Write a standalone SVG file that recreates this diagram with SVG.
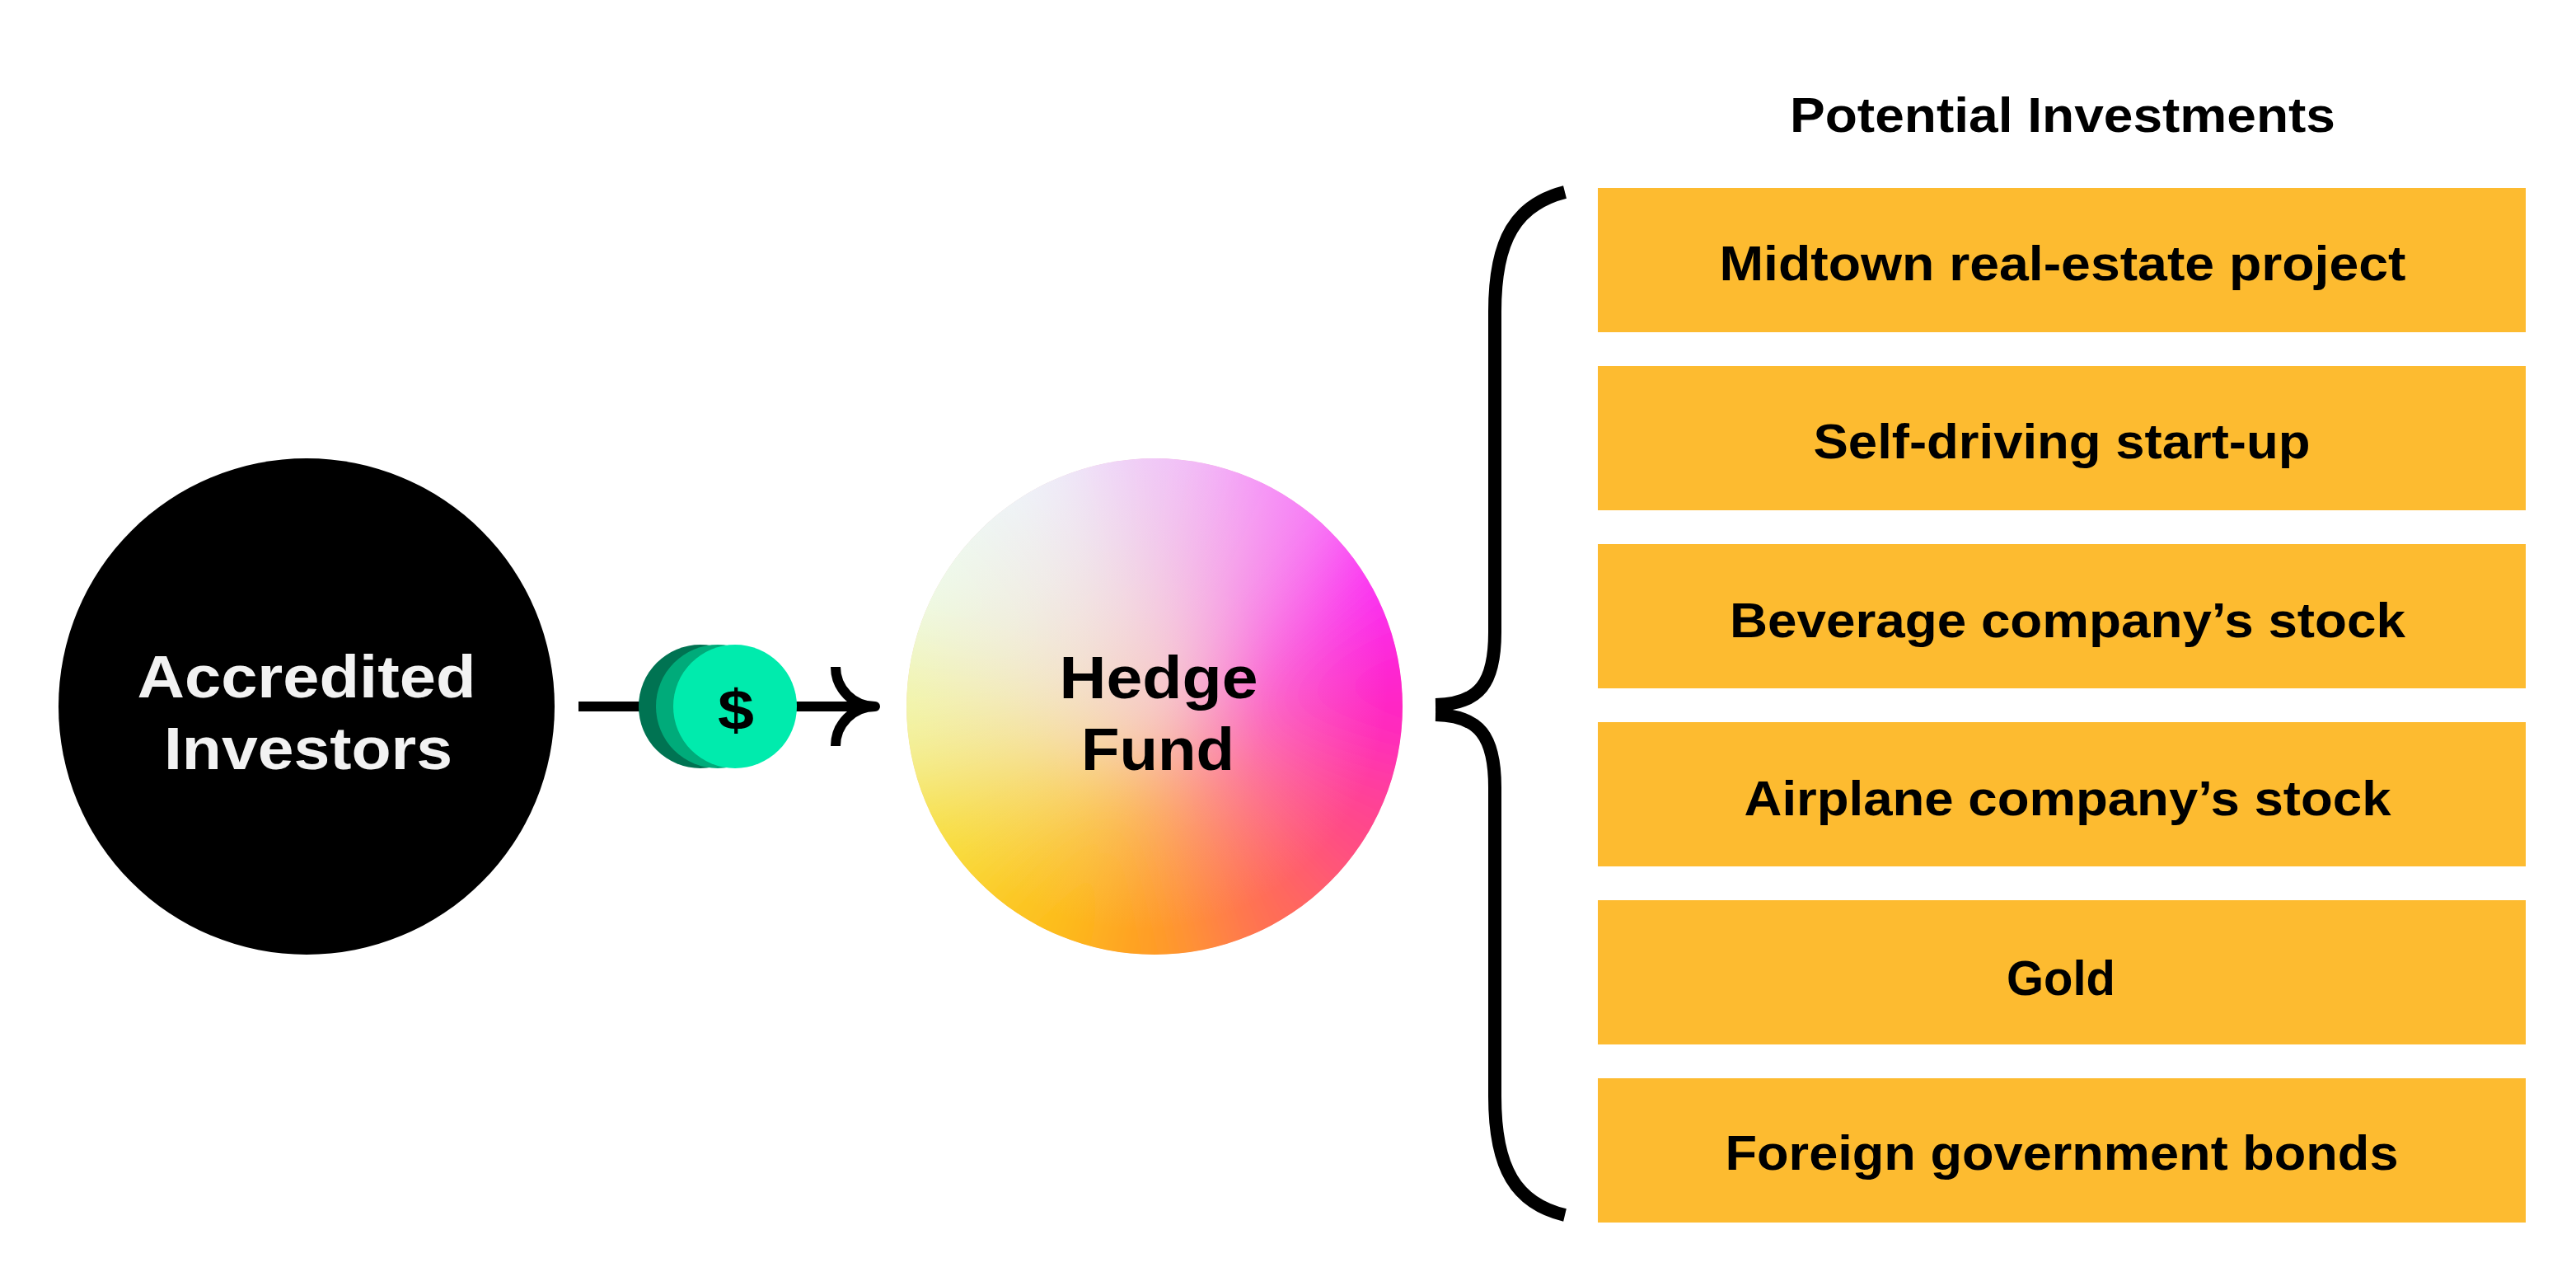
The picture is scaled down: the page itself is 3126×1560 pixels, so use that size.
<svg xmlns="http://www.w3.org/2000/svg" width="3126" height="1560" viewBox="0 0 3126 1560">
  <style>
    .lbl { font-family: "Liberation Sans", Arial, sans-serif; font-weight: 700; text-anchor: middle; }
    .box { fill: #FDBB30; }
    .boxtxt { font-size: 59px; fill: #000000; }
    .circ { font-size: 72px; }
    .stroke { fill: none; stroke: #000000; stroke-linecap: butt; stroke-linejoin: round; }
  </style>
  <defs>
    <clipPath id="hfClip">
      <circle cx="1401" cy="857" r="301"/>
    </clipPath>
    <filter id="soft" filterUnits="userSpaceOnUse" x="700" y="150" width="1400" height="1400">
      <feGaussianBlur stdDeviation="55"/>
    </filter>
    <radialGradient id="hfCenter" cx="0.47" cy="0.45" r="0.5">
      <stop offset="0" stop-color="#f6d2c8" stop-opacity="0.75"/>
      <stop offset="0.55" stop-color="#f6d2c8" stop-opacity="0.3"/>
      <stop offset="1" stop-color="#f6d2c8" stop-opacity="0"/>
    </radialGradient>
  </defs>
  <rect width="3126" height="1560" fill="#ffffff"/>

  <g id="connectors">
    <path class="stroke" stroke-width="12" d="M702,857 H1062"/>
    <path class="stroke" stroke-width="12" stroke-linejoin="miter" d="M1014,809 A48,48 0 0 0 1062,857 A48,48 0 0 0 1014,905"/>
    <g id="bracket">
      <path class="stroke" stroke-width="16" d="M1899,233 C1840,248 1814,290 1814,378 V767 C1814,828 1796,854 1742,855"/>
      <path class="stroke" stroke-width="16" d="M1742,867 C1796,868 1814,894 1814,955 V1330 C1814,1418 1840,1460 1899,1474"/>
    </g>
  </g>

  <g id="coin">
    <circle cx="850" cy="857" r="75" fill="#007352"/>
    <circle cx="871" cy="857" r="75" fill="#00AB7A"/>
    <circle cx="892" cy="857" r="75" fill="#00EBAD"/>
    <text class="lbl" x="893" y="885" font-size="68" fill="#000000" textLength="44" lengthAdjust="spacingAndGlyphs">$</text>
  </g>

  <g id="node-investors">
    <circle cx="372" cy="857" r="301" fill="#000000"/>
    <text class="lbl circ" fill="#f2f2f2" x="372" y="846" textLength="411" lengthAdjust="spacingAndGlyphs">Accredited</text>
    <text class="lbl circ" fill="#f2f2f2" x="374" y="933" textLength="350" lengthAdjust="spacingAndGlyphs">Investors</text>
  </g>

  <g id="node-hedge-fund">
    <g clip-path="url(#hfClip)">
      <circle cx="1401" cy="857" r="301" fill="#f6b8b4"/>
      <g filter="url(#soft)">
        <polygon points="1401,857 1245.7,277.4 1556.3,277.4" fill="#f0c8fa"/>
        <polygon points="1401,857 1556.3,277.4 1825.3,432.7" fill="#f68cf8"/>
        <polygon points="1401,857 1825.3,432.7 1980.6,701.7" fill="#fb30f2"/>
        <polygon points="1401,857 1980.6,701.7 1980.6,1012.3" fill="#ff20c4"/>
        <polygon points="1401,857 1980.6,1012.3 1825.3,1281.3" fill="#ff4688"/>
        <polygon points="1401,857 1825.3,1281.3 1556.3,1436.6" fill="#ff6a55"/>
        <polygon points="1401,857 1556.3,1436.6 1245.7,1436.6" fill="#ff9c22"/>
        <polygon points="1401,857 1245.7,1436.6 976.7,1281.3" fill="#fdc21e"/>
        <polygon points="1401,857 976.7,1281.3 821.4,1012.3" fill="#f8e040"/>
        <polygon points="1401,857 821.4,1012.3 821.4,701.7" fill="#f2f6a8"/>
        <polygon points="1401,857 821.4,701.7 976.7,432.7" fill="#eefcec"/>
        <polygon points="1401,857 976.7,432.7 1245.7,277.4" fill="#eef5fc"/>
      </g>
      <circle cx="1401" cy="857" r="301" fill="url(#hfCenter)"/>
    </g>
    <text class="lbl circ" fill="#000000" x="1406" y="847" textLength="241" lengthAdjust="spacingAndGlyphs">Hedge</text>
    <text class="lbl circ" fill="#000000" x="1405" y="934" textLength="186" lengthAdjust="spacingAndGlyphs">Fund</text>
  </g>

  <g id="title">
    <text class="lbl" font-size="59" fill="#000000" x="2503" y="160" textLength="662" lengthAdjust="spacingAndGlyphs">Potential Investments</text>
  </g>

  <g id="inv-1">
    <rect class="box" x="1939" y="228" width="1126" height="175"/>
    <text class="lbl boxtxt" x="2503" y="340" textLength="833" lengthAdjust="spacingAndGlyphs">Midtown real-estate project</text>
  </g>
  <g id="inv-2">
    <rect class="box" x="1939" y="444" width="1126" height="175"/>
    <text class="lbl boxtxt" x="2502" y="556" textLength="603" lengthAdjust="spacingAndGlyphs">Self-driving start-up</text>
  </g>
  <g id="inv-3">
    <rect class="box" x="1939" y="660" width="1126" height="175"/>
    <text class="lbl boxtxt" x="2509" y="773" textLength="820" lengthAdjust="spacingAndGlyphs">Beverage company’s stock</text>
  </g>
  <g id="inv-4">
    <rect class="box" x="1939" y="876" width="1126" height="175"/>
    <text class="lbl boxtxt" x="2509" y="989" textLength="785" lengthAdjust="spacingAndGlyphs">Airplane company’s stock</text>
  </g>
  <g id="inv-5">
    <rect class="box" x="1939" y="1092" width="1126" height="175"/>
    <text class="lbl boxtxt" x="2501" y="1207" textLength="132" lengthAdjust="spacingAndGlyphs">Gold</text>
  </g>
  <g id="inv-6">
    <rect class="box" x="1939" y="1308" width="1126" height="175"/>
    <text class="lbl boxtxt" x="2502" y="1419" textLength="817" lengthAdjust="spacingAndGlyphs">Foreign government bonds</text>
  </g>
</svg>
